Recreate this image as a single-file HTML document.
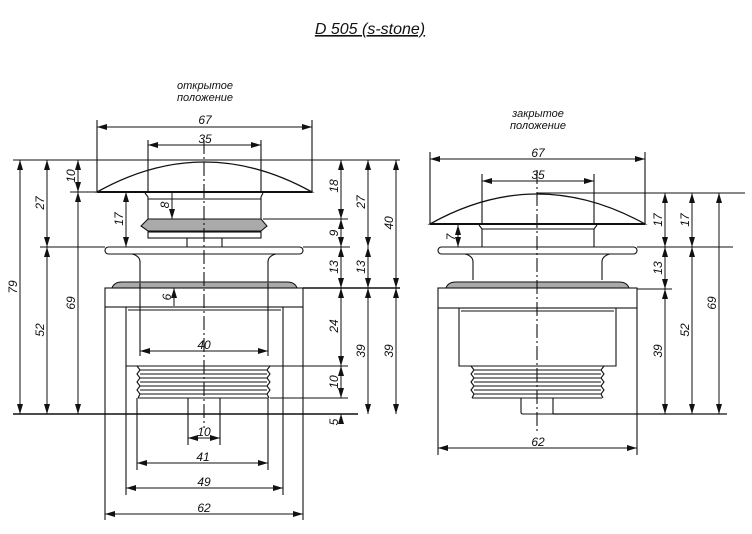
<!DOCTYPE html>
<html><head><meta charset="utf-8"><style>
html,body{margin:0;padding:0;background:#fff;}
svg{display:block;}
text{font-family:"Liberation Sans","DejaVu Sans",sans-serif;font-style:italic;font-size:12px;fill:#111;}
</style></head><body>
<svg width="752" height="534" viewBox="0 0 752 534" xmlns="http://www.w3.org/2000/svg">
<defs>
<marker id="a" viewBox="0 0 10 6" refX="10" refY="3" markerWidth="10" markerHeight="6" orient="auto-start-reverse" markerUnits="userSpaceOnUse"><path d="M0,0L10,3L0,6z" fill="#111"/></marker>
</defs>
<g stroke="#111" fill="none" stroke-width="1">
<!-- title -->
</g>
<text x="370" y="34" text-anchor="middle" style="font-size:16px" text-decoration="underline">D 505 (s-stone)</text>
<text x="205" y="89" text-anchor="middle" style="font-size:11px">открытое</text>
<text x="205" y="101" text-anchor="middle" style="font-size:11px">положение</text>
<text x="538" y="117" text-anchor="middle" style="font-size:11px">закрытое</text>
<text x="538" y="129" text-anchor="middle" style="font-size:11px">положение</text>

<!-- ===== LEFT VIEW ===== -->
<g stroke="#111" fill="none" stroke-width="1.1">
<!-- reference lines -->
<line x1="13" y1="160" x2="400" y2="160"/>
<line x1="70" y1="192" x2="97" y2="192"/>
<line x1="40" y1="247" x2="105" y2="247"/>
<line x1="303" y1="247" x2="350" y2="247"/>
<line x1="303" y1="288" x2="400" y2="288" stroke-width="1.5"/>
<line x1="13" y1="414" x2="358" y2="414" stroke-width="1.5"/>
<line x1="263" y1="219" x2="348" y2="219"/>
<line x1="270" y1="366" x2="348" y2="366"/>
<line x1="270" y1="398" x2="348" y2="398"/>
<!-- cap -->
<path d="M97,192 Q204,132 312,192 Z" stroke-width="1.3"/>
<line x1="97" y1="192" x2="312" y2="192" stroke-width="2"/>
<!-- stem -->
<path d="M145,193 L148,197 L148,219 M263,193 L261,197 L261,219"/>
<line x1="148" y1="199" x2="261" y2="199"/>
<path d="M148,219 L141,226 L148,231 L261,231 L267,226 L261,219 Z" fill="#aaa"/>
<rect x="148" y="232" width="113" height="6"/>
<path d="M187,238 L187,247 M222,238 L222,247"/>
<!-- flange -->
<rect x="105" y="247" width="198" height="7" rx="3.5"/>
<path d="M132,254 Q140,256 140,262 L140,283 M276,254 Q268,256 268,262 L268,283"/>
<path d="M112,288 Q114,282 122,282 L287,282 Q295,282 297,288 Z" fill="#aaa"/>
<!-- nut -->
<rect x="105" y="288" width="198" height="19"/>
<!-- body -->
<path d="M126,307 L126,366 L283,366 L283,307"/>
<line x1="128" y1="310" x2="281" y2="310"/>
<!-- thread -->
<path d="M137,366 L270,366 M138,398 L268,398 M137,366 l3,4 -3,4 3,4 -3,4 3,4 -3,4 3,4 -2,4 M270,366 l-3,4 3,4 -3,4 3,4 -3,4 3,4 -3,4 2,4"/>
<path d="M140,370 H267 M140,374 H267 M140,378 H267 M140,382 H267 M140,386 H267 M140,390 H267 M140,394 H267" stroke-width="0.9"/>
<!-- stub -->
<path d="M188,398 L188,414 M220,398 L220,414"/>
<!-- centerline -->
<line x1="204" y1="140" x2="204" y2="428" stroke-dasharray="14,3,2,3"/>
<!-- extension lines -->
<path d="M97,120 L97,192 M312,120 L312,192 M148,140 L148,192 M261,140 L261,192"/>
<path d="M105,307 L105,520 M303,307 L303,520 M126,366 L126,495 M283,366 L283,495 M137,398 L137,470 M268,398 L268,470 M188,414 L188,445 M220,414 L220,445 M140,283 L140,356 M268,283 L268,356"/>
</g>
<g stroke="#111" stroke-width="1" fill="none">
<line x1="97" y1="127" x2="312" y2="127" marker-start="url(#a)" marker-end="url(#a)"/>
<line x1="148" y1="145" x2="261" y2="145" marker-start="url(#a)" marker-end="url(#a)"/>
<line x1="140" y1="351" x2="268" y2="351" marker-start="url(#a)" marker-end="url(#a)"/>
<line x1="188" y1="438" x2="220" y2="438" marker-start="url(#a)" marker-end="url(#a)"/>
<line x1="137" y1="463" x2="268" y2="463" marker-start="url(#a)" marker-end="url(#a)"/>
<line x1="126" y1="488" x2="283" y2="488" marker-start="url(#a)" marker-end="url(#a)"/>
<line x1="105" y1="514" x2="303" y2="514" marker-start="url(#a)" marker-end="url(#a)"/>
<line x1="20" y1="160" x2="20" y2="414" marker-start="url(#a)" marker-end="url(#a)"/>
<line x1="47" y1="160" x2="47" y2="247" marker-start="url(#a)" marker-end="url(#a)"/>
<line x1="47" y1="247" x2="47" y2="414" marker-start="url(#a)" marker-end="url(#a)"/>
<line x1="78" y1="160" x2="78" y2="192" marker-start="url(#a)" marker-end="url(#a)"/>
<line x1="78" y1="192" x2="78" y2="414" marker-start="url(#a)" marker-end="url(#a)"/>
<line x1="126" y1="192" x2="126" y2="247" marker-start="url(#a)" marker-end="url(#a)"/>
<line x1="172" y1="192" x2="172" y2="219" marker-end="url(#a)"/>
<line x1="174" y1="288" x2="174" y2="306" marker-start="url(#a)"/>
<line x1="341" y1="160" x2="341" y2="219" marker-start="url(#a)" marker-end="url(#a)"/>
<line x1="341" y1="219" x2="341" y2="247" marker-start="url(#a)" marker-end="url(#a)"/>
<line x1="341" y1="247" x2="341" y2="288" marker-start="url(#a)" marker-end="url(#a)"/>
<line x1="341" y1="288" x2="341" y2="366" marker-start="url(#a)" marker-end="url(#a)"/>
<line x1="341" y1="366" x2="341" y2="398" marker-start="url(#a)" marker-end="url(#a)"/>
<line x1="341" y1="414" x2="341" y2="424" marker-start="url(#a)"/>
<line x1="368" y1="160" x2="368" y2="247" marker-start="url(#a)" marker-end="url(#a)"/>
<line x1="368" y1="247" x2="368" y2="288" marker-start="url(#a)" marker-end="url(#a)"/>
<line x1="368" y1="288" x2="368" y2="414" marker-start="url(#a)" marker-end="url(#a)"/>
<line x1="396" y1="160" x2="396" y2="288" marker-start="url(#a)" marker-end="url(#a)"/>
<line x1="396" y1="288" x2="396" y2="414" marker-start="url(#a)" marker-end="url(#a)"/>
</g>
<g>
<text x="205" y="124" text-anchor="middle">67</text>
<text x="205" y="143" text-anchor="middle">35</text>
<text x="204" y="349" text-anchor="middle">40</text>
<text x="204" y="436" text-anchor="middle">10</text>
<text x="203" y="461" text-anchor="middle">41</text>
<text x="204" y="486" text-anchor="middle">49</text>
<text x="204" y="512" text-anchor="middle">62</text>
<text transform="translate(17,287) rotate(-90)" text-anchor="middle">79</text>
<text transform="translate(44,203) rotate(-90)" text-anchor="middle">27</text>
<text transform="translate(44,330) rotate(-90)" text-anchor="middle">52</text>
<text transform="translate(75,176) rotate(-90)" text-anchor="middle">10</text>
<text transform="translate(75,303) rotate(-90)" text-anchor="middle">69</text>
<text transform="translate(123,219) rotate(-90)" text-anchor="middle">17</text>
<text transform="translate(169,205) rotate(-90)" text-anchor="middle">8</text>
<text transform="translate(171,297) rotate(-90)" text-anchor="middle">6</text>
<text transform="translate(338,186) rotate(-90)" text-anchor="middle">18</text>
<text transform="translate(338,233) rotate(-90)" text-anchor="middle">9</text>
<text transform="translate(338,267) rotate(-90)" text-anchor="middle">13</text>
<text transform="translate(338,326) rotate(-90)" text-anchor="middle">24</text>
<text transform="translate(338,382) rotate(-90)" text-anchor="middle">10</text>
<text transform="translate(338,422) rotate(-90)" text-anchor="middle">5</text>
<text transform="translate(365,202) rotate(-90)" text-anchor="middle">27</text>
<text transform="translate(365,267) rotate(-90)" text-anchor="middle">13</text>
<text transform="translate(365,351) rotate(-90)" text-anchor="middle">39</text>
<text transform="translate(393,223) rotate(-90)" text-anchor="middle">40</text>
<text transform="translate(393,351) rotate(-90)" text-anchor="middle">39</text>
</g>

<!-- ===== RIGHT VIEW ===== -->
<g stroke="#111" fill="none" stroke-width="1.1">
<line x1="537" y1="193" x2="745" y2="193"/>
<line x1="637" y1="247" x2="733" y2="247"/>
<line x1="637" y1="289" x2="672" y2="289"/>
<line x1="553" y1="414" x2="727" y2="414" stroke-width="1.3"/>
<path d="M430,224 Q537,164 645,224 Z" stroke-width="1.3"/>
<line x1="430" y1="224" x2="645" y2="224" stroke-width="2"/>
<path d="M479,225 L482,229 L482,247 M597,225 L594,229 L594,247"/>
<line x1="482" y1="229" x2="594" y2="229"/>
<rect x="438" y="247" width="199" height="7" rx="3.5"/>
<path d="M465,254 Q473,256 473,262 L473,280 M610,254 Q602,256 602,262 L602,280"/>
<path d="M446,288 Q448,282 456,282 L619,282 Q627,282 629,288 Z" fill="#aaa"/>
<rect x="438" y="288" width="199" height="20"/>
<path d="M459,308 L459,366 L616,366 L616,308"/>
<line x1="461" y1="311" x2="614" y2="311"/>
<path d="M471,366 L604,366 M472,398 L602,398 M471,366 l3,4 -3,4 3,4 -3,4 3,4 -3,4 3,4 -2,4 M604,366 l-3,4 3,4 -3,4 3,4 -3,4 3,4 -3,4 2,4"/>
<path d="M474,370 H601 M474,374 H601 M474,378 H601 M474,382 H601 M474,386 H601 M474,390 H601 M474,394 H601" stroke-width="0.9"/>
<path d="M521,398 L521,412 Q521,414 523,414 L553,414 L553,398"/>
<line x1="537" y1="170" x2="537" y2="432" stroke-dasharray="14,3,2,3"/>
<path d="M430,152 L430,224 M645,152 L645,224 M482,174 L482,224 M594,174 L594,224 M438,308 L438,455 M637,308 L637,455"/>
</g>
<g stroke="#111" stroke-width="1" fill="none">
<line x1="430" y1="159" x2="645" y2="159" marker-start="url(#a)" marker-end="url(#a)"/>
<line x1="482" y1="181" x2="594" y2="181" marker-start="url(#a)" marker-end="url(#a)"/>
<line x1="438" y1="448" x2="637" y2="448" marker-start="url(#a)" marker-end="url(#a)"/>
<line x1="458" y1="225" x2="458" y2="247" marker-start="url(#a)" marker-end="url(#a)"/>
<line x1="665" y1="193" x2="665" y2="247" marker-start="url(#a)" marker-end="url(#a)"/>
<line x1="665" y1="247" x2="665" y2="289" marker-start="url(#a)" marker-end="url(#a)"/>
<line x1="665" y1="289" x2="665" y2="414" marker-start="url(#a)" marker-end="url(#a)"/>
<line x1="692" y1="193" x2="692" y2="247" marker-start="url(#a)" marker-end="url(#a)"/>
<line x1="692" y1="247" x2="692" y2="414" marker-start="url(#a)" marker-end="url(#a)"/>
<line x1="719" y1="193" x2="719" y2="414" marker-start="url(#a)" marker-end="url(#a)"/>
</g>
<g>
<text x="538" y="157" text-anchor="middle">67</text>
<text x="538" y="179" text-anchor="middle">35</text>
<text x="538" y="446" text-anchor="middle">62</text>
<text transform="translate(455,237) rotate(-90)" text-anchor="middle">7</text>
<text transform="translate(662,220) rotate(-90)" text-anchor="middle">17</text>
<text transform="translate(662,268) rotate(-90)" text-anchor="middle">13</text>
<text transform="translate(662,351) rotate(-90)" text-anchor="middle">39</text>
<text transform="translate(689,220) rotate(-90)" text-anchor="middle">17</text>
<text transform="translate(689,330) rotate(-90)" text-anchor="middle">52</text>
<text transform="translate(716,303) rotate(-90)" text-anchor="middle">69</text>
</g>
</svg>
</body></html>
